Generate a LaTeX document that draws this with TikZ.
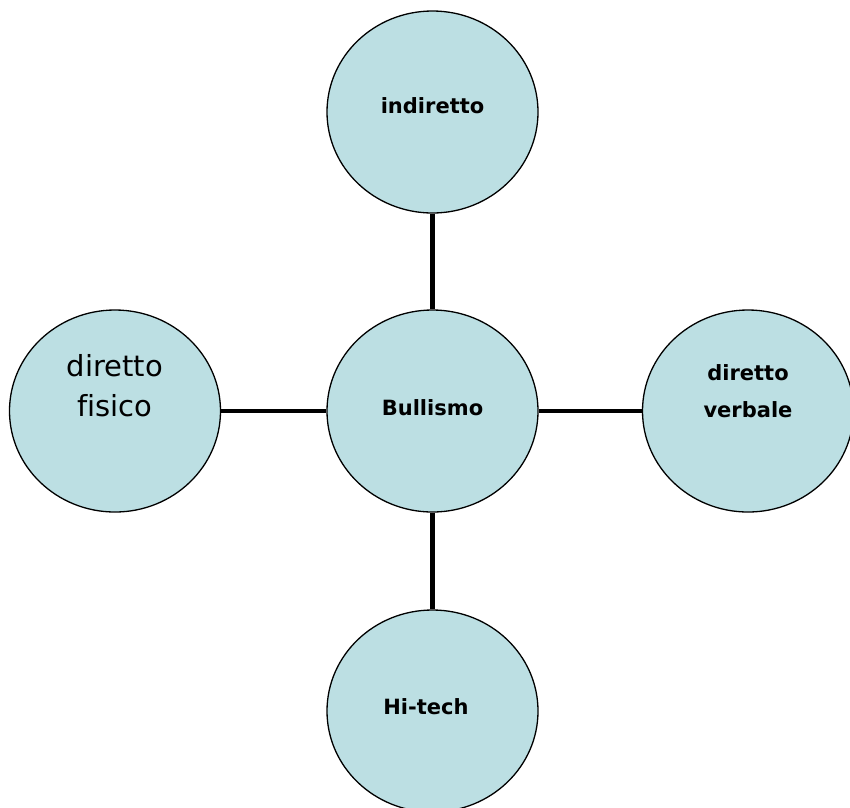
\documentclass[tikz,border=0pt]{standalone}
\usepackage{fontspec}
\setmainfont[Ligatures=NoCommon]{DejaVu Sans}
\usetikzlibrary{shapes.geometric}
\definecolor{bubble}{RGB}{188,223,227}
\tikzset{
  bubblenode/.style={ellipse, draw=black, line width=1.3pt, fill=bubble,
    minimum width=211pt, minimum height=202pt, inner sep=0pt},
  boldtxt/.style={font=\fontsize{21}{37}\selectfont\bfseries, align=center},
  plaintxt/.style={font=\fontsize{29}{40}\selectfont, align=center},
  link/.style={line width=4.5pt, black}
}
\begin{document}
\begin{tikzpicture}[x=1pt,y=-1pt]
\useasboundingbox (0,0) rectangle (850,807);
\node[bubblenode] (center) at (432.5,411) {};
\node[bubblenode] (top) at (432.5,112) {};
\node[bubblenode] (left) at (115,411) {};
\node[bubblenode] (right) at (748,411) {};
\node[bubblenode] (bottom) at (432.5,711) {};
\draw[link] (top.south) -- (center.north);
\draw[link] (center.south) -- (bottom.north);
\draw[link] (left.east) -- (center.west);
\draw[link] (center.east) -- (right.west);
\node[boldtxt] (tcenter) at (432.5,408) {Bullismo};
\node[boldtxt] (ttop) at (432.5,106) {indiretto};
\node[plaintxt] (tleft) at (115,386) {diretto\\fisico};
\node[boldtxt] (tright) at (748,391) {diretto\\verbale};
\node[boldtxt] (tbottom) at (426,707) {Hi-tech};
\end{tikzpicture}
\end{document}
